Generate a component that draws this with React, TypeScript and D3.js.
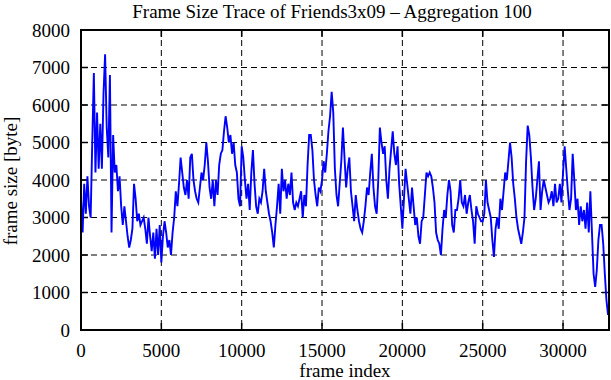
import React from "react";
import * as d3 from "d3";

const title = "Frame Size Trace of Friends3x09 – Aggregation 100";
const xLabel = "frame index";
const yLabel = "frame size [byte]";
const xTicks = [0, 5000, 10000, 15000, 20000, 25000, 30000];
const yTicks = [0, 1000, 2000, 3000, 4000, 5000, 6000, 7000, 8000];
const frameStep = 100;
const frameMax = 32860;

const seg0 = [3500, 2600, 3900, 3100, 4100, 3300, 3000, 5000, 6850, 4200, 5800, 4300, 5500, 4300, 6300, 7350, 5400, 4600, 6800, 2600, 5200, 4200, 4400, 3700, 4100, 3300, 2800, 3300, 2900, 2500, 2200, 2400, 2700, 3900, 3500, 2900, 3100, 2800, 2900, 3000, 2700, 2300, 3000, 2500, 2100, 2600, 1900, 2700, 2000, 2800, 1800];
const seg1 = [2500, 2900, 2600, 2200, 2400, 2000, 2600, 3000, 3700, 3300, 3900, 4600, 4200, 3800, 3600, 4000, 3500, 4600, 4700, 4000, 3700, 3500, 3400, 3800, 4200, 4000, 4400, 5000, 4500, 3800, 3500, 4000, 3300, 4000, 3600, 4400, 4700, 4800, 5300, 5700, 5400, 5000, 5200, 4700, 5000, 4400, 4200, 3500, 3300, 4900];
const seg2 = [4600, 4000, 3500, 3900, 3200, 4200, 4800, 3900, 3300, 3100, 3500, 3400, 3700, 4300, 3700, 3400, 3100, 2900, 2600, 2200, 2800, 3300, 3900, 3100, 4300, 3700, 4000, 3500, 3900, 3600, 4200, 3400, 3200, 3400, 3300, 3500, 3700, 3000, 3600, 3300, 4400, 5200, 5200, 4800, 4000, 3600, 3300, 3800, 3700, 4000];
const seg3 = [4500, 4200, 4700, 5300, 5700, 6350, 5800, 4300, 3600, 3300, 3900, 4500, 5400, 4600, 3800, 4300, 4600, 3700, 3300, 2900, 3600, 3200, 2900, 2700, 2600, 2900, 3300, 3800, 3600, 4200, 4700, 3800, 3300, 3100, 4000, 5400, 5000, 4700, 4900, 4000, 3500, 4300, 4800, 5300, 4700, 4400, 4900, 3900, 3300, 2700];
const seg4 = [3500, 4300, 3900, 3500, 3100, 3800, 3300, 2800, 3000, 2500, 2300, 2900, 3000, 3600, 4200, 4100, 4200, 4100, 3800, 3400, 2600, 2400, 2300, 2000, 2700, 3200, 3000, 3600, 4000, 3700, 2800, 2600, 3200, 3200, 3500, 4000, 3400, 3300, 3600, 3100, 3400, 3600, 3200, 2900, 2300, 3300, 3100, 3000, 2900, 2900];
const seg5 = [3100, 4000, 3400, 3200, 3000, 2400, 1950, 2700, 3000, 2700, 3500, 3200, 3700, 4200, 4000, 4500, 5000, 4600, 3900, 3500, 3000, 2700, 2500, 2300, 2600, 3000, 4500, 5450, 5200, 4600, 3800, 3200, 3500, 4000, 4500, 3200, 3700, 4000, 3800, 3600, 3400, 3500, 3700, 3300, 3900, 3400, 3500, 3900, 3400, 4200];
const seg6 = [4900, 4300, 3700, 3200, 3500, 4700, 4000, 3200, 3500, 2800, 3300, 2900, 3200, 2700, 3400, 2600, 3700, 2600, 1500, 1150, 1600, 2400, 2800, 2800, 2300, 1500, 800, 400, 300];

const sizes = [...seg0, ...seg1, ...seg2, ...seg3, ...seg4, ...seg5, ...seg6];

export default function App() {
  const W = 611, H = 380;
  const m = { left: 81, right: 609, top: 30, bottom: 330 };
  const x = d3.scaleLinear().domain([0, frameMax]).range([m.left, m.right]);
  const y = d3.scaleLinear().domain([0, 8000]).range([m.bottom, m.top]);
  const pts = sizes.map((v, i) => [i * frameStep, v] as [number, number]).filter(d => d[0] <= frameMax);
  const line = d3.line<[number, number]>().x(d => x(d[0])).y(d => y(d[1]))(pts) || "";
  const font = "'Liberation Serif', 'Times New Roman', serif";
  return (
    <svg width={W} height={H} style={{ position: "absolute", left: 0, top: 0, background: "#fff" }} fontFamily={font}>
      <rect x={0} y={0} width={W} height={H} fill="#fff" />
      {yTicks.slice(1, -1).map(t => (
        <line key={"gy" + t} x1={m.left} x2={m.right} y1={y(t)} y2={y(t)} stroke="#000" strokeWidth={1} strokeDasharray="6,4" />
      ))}
      {xTicks.slice(1).map(t => (
        <line key={"gx" + t} x1={x(t)} x2={x(t)} y1={m.top} y2={m.bottom} stroke="#000" strokeWidth={1} strokeDasharray="6,4" />
      ))}
      {yTicks.map(t => (
        <g key={"ty" + t}>
          <line x1={m.left} x2={m.left + 7} y1={y(t)} y2={y(t)} stroke="#000" strokeWidth={1.5} />
          <line x1={m.right} x2={m.right - 7} y1={y(t)} y2={y(t)} stroke="#000" strokeWidth={1.5} />
          <text x={70} y={y(t)} dy="0.35em" textAnchor="end" fontSize={19}>{t}</text>
        </g>
      ))}
      {xTicks.map(t => (
        <g key={"tx" + t}>
          <line x1={x(t)} x2={x(t)} y1={m.bottom} y2={m.bottom - 7} stroke="#000" strokeWidth={1.5} />
          <line x1={x(t)} x2={x(t)} y1={m.top} y2={m.top + 7} stroke="#000" strokeWidth={1.5} />
          <text x={x(t)} y={357} textAnchor="middle" fontSize={19}>{t}</text>
        </g>
      ))}
      <path d={line} fill="none" stroke="#0000ff" strokeWidth={1.9} strokeLinejoin="miter" />
      <rect x={m.left} y={m.top} width={m.right - m.left} height={m.bottom - m.top} fill="none" stroke="#000" strokeWidth={2} />
      <text x={332} y={18} textAnchor="middle" fontSize={19}>{title}</text>
      <text x={345} y={377} textAnchor="middle" fontSize={19}>{xLabel}</text>
      <text transform={`translate(17,181) rotate(-90)`} textAnchor="middle" fontSize={19}>{yLabel}</text>
    </svg>
  );
}
